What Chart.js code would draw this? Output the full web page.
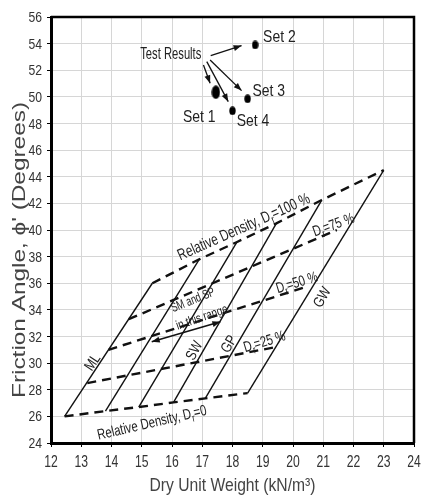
<!DOCTYPE html>
<html>
<head>
<meta charset="utf-8">
<style>
  html, body { margin: 0; padding: 0; background: #fff; }
  #wrap { width: 430px; height: 498px; }
</style>
</head>
<body>
<div id="wrap"><canvas id="chart"></canvas></div>
<script src="https://cdn.jsdelivr.net/npm/chart.js@4.4.1/dist/chart.umd.min.js"></script>
<script>
// --axis ranges-- //
const xTickMin = 12, xTickMax = 24, xTickStep = 1;
const yTickMin = 24, yTickMax = 56, yTickStep = 2;

// --soil type lines, loose end (Dr = 0) and dense end (Dr = 100 %)-- //
const soilTypes = ['ML', '', '', 'SW', 'GP', 'GW'];
const looseWeight = [12.45, 13.8, 14.9, 16.05, 17.1, 18.5];
const looseAngle = [26.0, 26.4, 26.7, 27.05, 27.35, 27.75];
const denseWeight = [15.35, 16.9, 18.15, 19.45, 20.95, 23.0];
const denseAngle = [36.0, 37.8, 39.1, 40.5, 42.25, 44.5];

// --intermediate relative density lines (25, 50, 75 %)-- //
const midDensities = ['25', '50', '75'];
const midStartWeight = [13.2, 13.9, 14.57];
const midStartAngle = [28.5, 31.0, 33.3];
const midEndWeight = [19.42, 20.4, 21.45];
const midEndAngle = [31.2, 35.7, 40.0];

// --test results-- //
const setNames = ['Set 1', 'Set 2', 'Set 3', 'Set 4'];
const setWeight = [17.45, 18.75, 18.5, 18.0];
const setAngle = [50.35, 53.9, 49.85, 48.95];

// arrows from the "Test Results" note to each set
const pointerStartWeight = [17.04, 17.28, 17.26, 17.15];
const pointerStartAngle = [52.4, 53.1, 52.77, 52.65];
const pointerEndWeight = [17.26, 18.3, 18.3, 17.86];
const pointerEndAngle = [51.02, 53.85, 50.47, 49.64];

// "SM and SP in this range" double arrow
const rangeWeight = [15.33, 17.6];
const rangeAngle = [31.6, 33.1];

const FONT = "'Liberation Sans', Arial, sans-serif";

const xy = (xs, ys) => xs.map((x, i) => ({ x: x, y: ys[i] }));

const dotImage = (w, h) => {
  const c = document.createElement('canvas');
  c.width = w; c.height = h;
  const g = c.getContext('2d');
  g.fillStyle = '#000';
  g.beginPath();
  g.ellipse(w / 2, h / 2, w / 2 - 0.3, h / 2 - 0.3, 0, 0, Math.PI * 2);
  g.fill();
  return c;
};
const smallDot = dotImage(7, 9);
const bigDot = dotImage(9, 14);

const datasets = [];

soilTypes.forEach((s, i) => {
  datasets.push({
    label: s || 'soil',
    data: [{ x: looseWeight[i], y: looseAngle[i] }, { x: denseWeight[i], y: denseAngle[i] }],
    borderColor: '#111',
    borderWidth: 1.4
  });
});

datasets.push({ label: 'Dr=0', data: xy(looseWeight, looseAngle), borderColor: '#111', borderWidth: 2.4, borderDash: [9, 6] });
datasets.push({ label: 'Dr=100', data: xy(denseWeight, denseAngle), borderColor: '#111', borderWidth: 2.4, borderDash: [9, 6] });
midDensities.forEach((d, i) => {
  datasets.push({
    label: 'Dr=' + d,
    data: [{ x: midStartWeight[i], y: midStartAngle[i] }, { x: midEndWeight[i], y: midEndAngle[i] }],
    borderColor: '#111',
    borderWidth: 2.4,
    borderDash: [9, 6]
  });
});

setNames.forEach((s, i) => {
  datasets.push({
    label: 'pointer ' + s,
    data: [{ x: pointerStartWeight[i], y: pointerStartAngle[i] }, { x: pointerEndWeight[i], y: pointerEndAngle[i] }],
    borderColor: '#111',
    borderWidth: 1.3,
    arrowEnd: true
  });
});

datasets.push({
  label: 'SM and SP range',
  data: xy(rangeWeight, rangeAngle),
  borderColor: '#111',
  borderWidth: 1.6,
  arrowEnd: true,
  arrowStart: true
});

datasets.push({
  label: 'Test Results',
  data: xy(setWeight, setAngle),
  showLine: false,
  pointRadius: 4,
  pointStyle: setNames.map((s, i) => i === 0 ? bigDot : smallDot)
});

// text notes placed in data units; sq squeezes the lettering sideways like the original
const notes = [
  { parts: [['Test Results']], x: 15.96, y: 53.28, angle: 0, size: 17, sq: 0.66 },
  { parts: [['Set 1']], x: 16.9, y: 48.55, angle: 0, size: 17, sq: 0.82 },
  { parts: [['Set 2']], x: 19.55, y: 54.58, angle: 0, size: 17, sq: 0.82 },
  { parts: [['Set 3']], x: 19.2, y: 50.52, angle: 0, size: 17, sq: 0.82 },
  { parts: [['Set 4']], x: 18.68, y: 48.3, angle: 0, size: 17, sq: 0.82 },
  { parts: [['Relative Density, D'], ['r', 1], ['=100 %']], x: 18.36, y: 40.29, angle: -24, size: 16, sq: 0.74 },
  { parts: [['D'], ['r', 1], ['=75 %']], x: 21.33, y: 40.44, angle: -20, size: 15, sq: 0.75 },
  { parts: [['D'], ['r', 1], ['=50 %']], x: 20.12, y: 36.1, angle: -17, size: 15, sq: 0.75 },
  { parts: [['D'], ['r', 1], ['=25 %']], x: 19.05, y: 31.67, angle: -17, size: 15, sq: 0.75 },
  { parts: [['Relative Density, D'], ['r', 1], ['=0']], x: 15.33, y: 25.58, angle: -13, size: 15, sq: 0.76 },
  { parts: [['ML']], x: 13.35, y: 30.1, angle: -56, size: 15, sq: 0.8 },
  { parts: [['SW']], x: 16.71, y: 30.97, angle: -62, size: 15, sq: 0.8 },
  { parts: [['GP']], x: 17.86, y: 31.47, angle: -60, size: 15, sq: 0.8 },
  { parts: [['GW']], x: 20.94, y: 34.98, angle: -60, size: 15, sq: 0.8 },
  { parts: [['SM and SP']], x: 16.68, y: 34.8, angle: -22, size: 13, sq: 0.7 },
  { parts: [['in this range']], x: 16.98, y: 33.49, angle: -19, size: 13, sq: 0.76 }
];

const drawNote = (ctx, note, px, py) => {
  ctx.save();
  ctx.translate(px, py);
  ctx.rotate(note.angle * Math.PI / 180);
  ctx.scale(note.sq, 1);
  ctx.fillStyle = '#222';
  ctx.textBaseline = 'alphabetic';
  ctx.textAlign = 'left';
  const fontFor = (p) => (p[1] ? note.size * 0.72 : note.size) + 'px ' + FONT;
  let total = 0;
  note.parts.forEach(p => { ctx.font = fontFor(p); total += ctx.measureText(p[0]).width; });
  let cx = -total / 2;
  const base = note.size * 0.36;
  note.parts.forEach(p => {
    ctx.font = fontFor(p);
    ctx.fillText(p[0], cx, base + (p[1] ? note.size * 0.25 : 0));
    cx += ctx.measureText(p[0]).width;
  });
  ctx.restore();
};

const arrowHead = (ctx, fx, fy, tx, ty) => {
  const a = Math.atan2(ty - fy, tx - fx);
  const len = 8, half = 3;
  ctx.beginPath();
  ctx.moveTo(tx, ty);
  ctx.lineTo(tx - len * Math.cos(a) + half * Math.sin(a), ty - len * Math.sin(a) - half * Math.cos(a));
  ctx.lineTo(tx - len * Math.cos(a) - half * Math.sin(a), ty - len * Math.sin(a) + half * Math.cos(a));
  ctx.closePath();
  ctx.fill();
};

// squeezed text helper for tick labels and titles
const squeezedText = (ctx, text, x, y, size, sq, align, angle) => {
  ctx.save();
  ctx.translate(x, y);
  if (angle) ctx.rotate(angle);
  ctx.scale(sq, 1);
  ctx.font = size + 'px ' + FONT;
  ctx.textAlign = align;
  ctx.textBaseline = 'alphabetic';
  ctx.fillText(text, 0, 0);
  ctx.restore();
};

const extras = {
  id: 'extras',
  afterDatasetsDraw(chart) {
    const ctx = chart.ctx;
    const area = chart.chartArea;
    const sx = chart.scales.x, sy = chart.scales.y;

    // arrow heads on top of the pointer lines
    ctx.save();
    ctx.fillStyle = '#111';
    chart.data.datasets.forEach((ds, i) => {
      const pts = chart.getDatasetMeta(i).data;
      if (ds.arrowEnd) arrowHead(ctx, pts[0].x, pts[0].y, pts[1].x, pts[1].y);
      if (ds.arrowStart) arrowHead(ctx, pts[1].x, pts[1].y, pts[0].x, pts[0].y);
    });
    ctx.restore();

    notes.forEach(n => drawNote(ctx, n, sx.getPixelForValue(n.x), sy.getPixelForValue(n.y)));

    // top and right frame
    ctx.save();
    ctx.strokeStyle = '#000';
    ctx.lineWidth = 2.5;
    ctx.beginPath();
    ctx.moveTo(area.left, area.top);
    ctx.lineTo(area.right, area.top);
    ctx.lineTo(area.right, area.bottom);
    ctx.stroke();
    ctx.restore();

    // tick labels from the scales' own ticks, in the condensed lettering
    ctx.save();
    ctx.fillStyle = '#333';
    sx.ticks.forEach(t => {
      squeezedText(ctx, String(t.value), sx.getPixelForValue(t.value), area.bottom + 24, 16, 0.76, 'center');
    });
    sy.ticks.forEach(t => {
      squeezedText(ctx, String(t.value), area.left - 9, sy.getPixelForValue(t.value) + 5, 14.5, 0.84, 'right');
    });
    ctx.restore();

    // axis titles
    ctx.save();
    ctx.fillStyle = '#444';
    ctx.font = '18px ' + FONT;
    const xTitle = 'Dry Unit Weight (kN/m\u00B3)';
    squeezedText(ctx, xTitle, (area.left + area.right) / 2, 491, 18.5, 166 / (ctx.measureText(xTitle).width * 18.5 / 18), 'center');
    const yTitle = "Friction Angle, \u03D5' (Degrees)";
    ctx.translate(25, 250);
    ctx.rotate(-Math.PI / 2);
    ctx.scale(296 / ctx.measureText(yTitle).width, 1);
    ctx.textAlign = 'center';
    ctx.textBaseline = 'alphabetic';
    ctx.fillText(yTitle, 0, 0);
    ctx.restore();
  }
};

new Chart(document.getElementById('chart'), {
  type: 'scatter',
  data: { datasets: datasets },
  options: {
    responsive: true,
    maintainAspectRatio: false,
    animation: false,
    showLine: true,
    elements: { point: { radius: 0, hoverRadius: 0 }, line: { tension: 0 } },
    layout: { padding: { left: 0, right: 16, top: 17, bottom: 0 } },
    plugins: { legend: { display: false }, tooltip: { enabled: false } },
    scales: {
      x: {
        type: 'linear',
        min: xTickMin,
        max: xTickMax,
        afterFit: (scale) => { scale.height = 55; },
        ticks: { stepSize: xTickStep, display: false },
        grid: { color: '#d6d6d6', lineWidth: 1, tickColor: '#000', tickLength: 4 },
        border: { color: '#000', width: 3 }
      },
      y: {
        type: 'linear',
        min: yTickMin,
        max: yTickMax,
        afterFit: (scale) => { scale.width = 51; },
        ticks: { stepSize: yTickStep, display: false },
        grid: { color: '#d6d6d6', lineWidth: 1, tickColor: '#000', tickLength: 4 },
        border: { color: '#000', width: 3 }
      }
    }
  },
  plugins: [extras]
});
</script>
</body>
</html>
